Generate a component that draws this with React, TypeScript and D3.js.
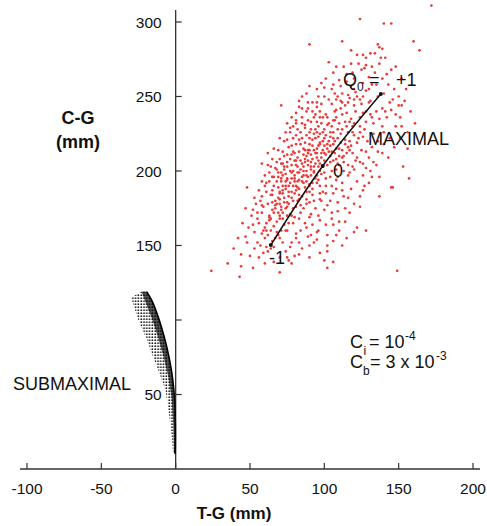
import React from "react";
import * as d3 from "d3";

// ---------- data ----------
const xTicks = [-100, -50, 0, 50, 100, 150, 200];
const xTickLabels = ["-100", "-50", "0", "50", "100", "150", "200"];
const yTicks = [50, 100, 150, 200, 250, 300];
const yTickLabels = ["50", "", "150", "200", "250", "300"];

// maximal path (Q0 = -1, 0, +1)
const maxTG = [64, 98.9, 138];
const maxCG = [150.3, 203.4, 251.7];
const maxQ = ["-1", "0", "+1"];

// red scatter (T-G, C-G) in mm
const redPoints: [number, number][] = [
  [172, 311], [124, 302], [140, 299], [145, 299], [112, 287], [90, 285], [160, 287], [136, 285],
  [137, 283], [139, 282], [164, 281], [122, 278], [126, 278], [131, 279], [134, 279], [128, 276],
  [138, 276], [141, 276], [118, 281], [103, 273], [108, 270], [148, 270], [125, 268], [127, 269],
  [134, 266], [115, 265], [120, 262], [130, 263], [142, 265], [110, 261], [152, 262], [98, 259],
  [90, 257], [155, 255], [105, 255], [112, 252], [118, 257], [122, 250], [128, 254], [132, 258],
  [136, 250], [140, 252], [146, 248], [108, 248], [100, 250], [95, 246], [116, 246], [125, 245],
  [131, 247], [150, 244], [85, 250], [120, 255], [126, 259],
  [71, 244], [83, 243], [89, 242], [92, 240], [81, 239], [97, 236], [75, 232], [81, 232], [79, 230],
  [85, 232], [87, 229], [95, 233], [102, 231], [105, 230], [77, 226], [90, 226], [95, 226], [99, 226],
  [104, 223], [75, 221], [83, 221], [87, 219], [92, 221], [97, 219], [104, 217], [72, 213], [79, 213],
  [82, 209], [89, 214], [95, 212], [100, 212], [68, 206], [71, 205], [75, 206], [81, 204], [87, 206],
  [91, 203], [97, 205], [63, 199], [68, 201], [73, 201], [78, 199], [83, 199], [88, 197], [93, 199],
  [65, 196], [71, 195], [75, 194], [80, 193], [85, 193], [90, 191], [95, 192], [48, 189], [61, 192],
  [69, 189], [82, 189],
  [109, 250], [117, 249], [124, 248], [112, 246], [120, 244], [130, 246], [139, 242], [145, 241],
  [152, 244], [108, 241], [115, 239], [126, 239], [132, 236], [142, 236], [151, 236], [107, 234],
  [117, 233], [124, 230], [139, 230], [148, 230], [109, 228], [119, 226], [126, 223], [106, 222],
  [114, 221], [122, 219], [132, 216], [147, 216], [108, 215], [117, 214], [128, 213], [139, 212],
  [112, 209], [122, 209], [130, 209], [143, 209], [156, 215], [110, 204], [119, 203], [126, 205],
  [135, 204], [153, 203], [117, 199], [126, 197], [137, 196], [157, 195], [108, 194], [122, 193],
  [130, 192], [146, 189],
  [126, 187], [145, 189], [137, 183], [53, 182], [58, 183], [65, 184], [70, 186], [81, 187], [99, 186],
  [106, 185], [112, 187], [116, 182], [52, 174], [58, 177], [65, 179], [71, 176], [75, 179], [83, 181],
  [90, 179], [97, 181], [102, 177], [109, 179], [114, 175], [124, 176], [55, 168], [63, 169], [70, 168],
  [78, 170], [83, 168], [90, 169], [97, 167], [105, 168], [110, 166], [53, 159], [60, 162], [68, 159],
  [75, 160], [81, 158], [88, 162], [95, 159], [102, 157], [106, 164], [122, 162], [128, 160], [120, 159],
  [55, 152], [61, 149], [72, 152], [77, 149], [83, 152], [90, 150], [95, 154], [102, 150], [108, 157],
  [112, 150], [115, 155], [44, 144], [50, 143], [56, 142], [75, 142], [83, 144], [90, 142], [35, 138],
  [44, 136], [78, 138], [100, 140], [106, 139], [102, 135], [24, 133], [43, 129], [70, 132], [149, 133],
  [85, 205], [88, 210], [92, 208], [95, 215], [98, 212], [100, 207], [102, 215], [104, 210], [106, 218],
  [93, 200], [96, 203], [89, 196], [86, 192], [83, 188], [80, 185], [78, 182], [76, 178], [74, 175],
  [72, 172], [70, 170], [68, 166], [66, 163], [64, 160], [62, 157], [60, 155], [67, 175], [63, 170],
  [61, 165], [72, 190], [70, 185], [75, 195], [79, 200], [82, 203], [87, 214], [90, 218], [94, 222],
  [97, 225], [100, 228], [103, 232], [108, 236], [112, 238], [115, 230], [118, 235], [121, 240],
  [99, 236], [96, 230], [91, 228], [88, 224], [84, 218], [80, 212], [77, 208], [73, 203], [69, 196],
  [66, 190], [64, 184], [62, 178], [58, 172], [56, 165], [59, 160], [65, 153], [70, 155], [74, 160],
  [79, 165], [84, 172], [88, 178], [92, 184], [97, 190], [101, 195], [105, 200], [109, 205], [113, 210],
  [117, 220], [111, 225], [106, 226], [103, 220], [100, 222], [97, 218], [94, 212], [91, 206], [88, 200],
  [85, 196], [82, 193], [79, 190], [76, 186], [73, 182], [70, 178], [67, 180], [71, 193], [74, 198],
  [78, 204], [81, 207], [86, 200], [90, 190], [94, 195], [98, 198], [102, 204], [107, 212], [110, 215],
  [114, 218], [119, 212], [123, 222], [127, 228], [111, 242], [105, 245], [97, 240], [93, 236], [89, 234],
  [78, 195], [80, 197], [84, 201], [86, 203], [89, 207], [91, 211], [93, 214], [96, 217], [99, 220],
  [101, 224], [76, 190], [74, 188], [72, 185], [69, 182], [67, 177], [65, 174], [63, 167], [61, 160],
  [58, 158], [57, 150], [62, 146], [66, 149], [69, 157], [73, 164], [77, 171], [81, 176], [85, 183],
  [88, 186], [92, 188], [96, 194], [100, 199], [104, 206], [108, 208], [112, 214], [116, 216], [120, 224],
  [124, 226], [128, 233], [131, 238], [135, 240], [119, 230], [114, 233], [110, 232], [106, 234],
  [101, 238], [95, 243], [92, 246], [88, 240], [85, 236], [82, 228], [79, 222], [76, 216], [73, 210],
  [70, 208], [67, 202], [64, 203], [60, 197], [58, 193], [56, 187], [54, 178], [51, 170], [49, 162],
  [47, 156], [52, 164], [57, 180], [61, 186], [66, 196], [69, 199], [72, 205], [75, 211], [78, 217],
  [81, 224], [84, 226], [87, 231], [91, 233], [94, 238], [98, 245], [103, 248], [107, 252], [111, 257],
  [115, 260], [119, 266], [123, 272], [128, 271], [132, 270], [137, 272], [143, 258], [147, 255],
  [150, 250], [154, 247], [158, 240], [161, 232], [156, 226], [151, 222], [144, 222], [140, 218],
  [136, 220], [133, 225], [129, 220], [125, 214], [121, 207], [116, 204], [113, 200], [109, 196],
  [105, 190], [101, 185], [98, 180], [94, 175], [91, 171], [87, 165], [84, 160], [81, 155], [78, 152],
  [74, 146], [70, 142], [66, 139], [60, 138], [52, 135], [39, 148], [42, 155], [45, 165], [47, 175],
  [62, 212], [58, 205], [66, 215], [70, 222], [74, 226], [78, 236], [83, 247], [88, 252], [95, 255],
  [101, 262], [106, 266], [113, 270], [118, 272], [144, 246], [148, 238], [152, 230], [140, 226],
  [136, 213], [133, 206], [131, 200], [127, 190], [124, 183], [120, 178], [117, 172], [114, 166],
  [110, 160], [106, 153], [102, 146], [97, 145], [93, 152], [89, 156], [85, 148], [80, 143], [76, 140],
  [92, 164], [96, 170], [100, 174], [104, 180], [108, 188], [112, 192], [116, 197], [120, 201],
  [124, 206], [128, 202], [132, 196], [118, 188], [113, 183], [109, 173], [105, 172], [101, 164],
  [96, 160], [91, 157], [86, 175], [82, 180], [79, 175], [75, 170], [71, 160], [67, 155], [64, 148],
  [59, 145], [53, 148], [48, 152], [86, 215], [90, 222], [94, 228], [98, 232], [102, 236], [107, 240],
  [111, 247], [116, 251], [121, 253], [126, 250], [130, 255], [135, 258], [139, 262], [145, 268],
  [133, 232], [137, 235], [141, 240], [128, 240], [124, 236], [120, 248], [114, 244], [106, 258],
  [100, 256], [96, 250], [89, 246], [85, 242], [81, 234], [77, 229], [73, 220], [69, 214], [65, 208],
  [62, 204], [60, 190], [63, 193], [59, 176], [55, 172],
  [76, 183], [78, 186], [81, 190], [83, 194], [86, 197], [88, 193], [91, 197], [93, 203], [96, 207],
  [98, 209], [101, 211], [103, 213], [99, 203], [97, 200], [94, 205], [91, 201], [89, 204], [87, 208],
  [84, 207], [82, 199], [80, 195], [77, 192], [74, 190], [72, 187], [70, 181], [68, 178], [66, 172],
  [64, 168], [71, 174], [73, 179], [75, 176], [79, 180], [83, 184], [87, 189], [90, 186], [92, 192],
  [95, 197], [99, 214], [102, 218], [105, 213], [107, 220], [109, 222], [111, 219], [104, 226],
  [100, 217], [95, 209], [92, 217], [89, 212], [86, 211], [83, 213], [80, 207], [77, 200], [74, 193],
  [71, 199], [68, 193], [65, 187], [69, 172], [72, 168], [76, 165], [80, 169], [84, 177], [88, 181],
  [93, 180], [97, 185], [101, 190], [104, 196], [108, 201], [106, 207], [110, 210], [113, 206],
  [115, 212], [118, 217], [112, 228], [116, 226], [120, 232], [96, 223], [93, 225], [90, 214],
  [85, 222], [81, 218], [78, 211], [75, 203], [72, 197],
];

// submaximal fan outline (T-G, C-G) in mm
const subRightEdge: [number, number][] = [
  [-19.5, 119], [-16, 113], [-12.8, 105], [-9.5, 95], [-6, 82], [-3.5, 70], [-2, 60],
  [-0.8, 48], [-0.3, 35], [-0.2, 20], [-0.3, 10],
];
const subLeftEdge: [number, number][] = [
  [-30, 115], [-25.5, 101], [-19.5, 87], [-12, 67], [-6.8, 53], [-4.5, 37], [-2.6, 21], [-1.8, 11],
];
const subTopEdge: [number, number][] = [[-30, 115], [-26, 117.5], [-22, 119.5], [-19.5, 119]];
const subInnerBand: [number, number][] = [
  [-23, 119], [-19.5, 110], [-16, 101], [-12, 89], [-8.3, 76], [-5, 62], [-2.8, 48],
  [-1.6, 30], [-1.2, 11],
];

// ---------- layout ----------
const W = 487;
const H = 526;
const FONT = "'Liberation Sans', Arial, Helvetica, sans-serif";

export default function App() {
  const x = d3.scaleLinear().domain([-100, 200]).range([27, 473]);
  const y = d3.scaleLinear().domain([0, 300]).range([469, 22]);
  const x0 = x(0);
  const y0 = y(0);

  const line = d3
    .line<[number, number]>()
    .x((d) => x(d[0]))
    .y((d) => y(d[1]))
    .curve(d3.curveCatmullRom);

  const closed = d3
    .line<[number, number]>()
    .x((d) => x(d[0]))
    .y((d) => y(d[1]))
    .curve(d3.curveLinearClosed);

  const fanPts: [number, number][] = [
    ...subTopEdge,
    ...subRightEdge.slice(1),
    ...[...subLeftEdge].reverse().slice(0, -1),
  ];
  const fanPath = closed(fanPts) as string;
  const bandPts: [number, number][] = [...subRightEdge, ...[...subInnerBand].reverse()];
  const bandPath = closed(bandPts) as string;

  const maxPts: [number, number][] = maxTG.map((t, i) => [t, maxCG[i]]);

  return (
    <svg
      width={W}
      height={H}
      style={{ position: "absolute", left: 0, top: 0, background: "#fff" }}
      fontFamily={FONT}
    >
      <defs>
        <pattern id="dots" width="2.8" height="3" patternUnits="userSpaceOnUse">
          <circle cx="1.2" cy="1.2" r="0.85" fill="#111" />
        </pattern>
        <pattern id="dotsDense" width="1.7" height="1.7" patternUnits="userSpaceOnUse">
          <circle cx="0.85" cy="0.85" r="0.75" fill="#000" />
        </pattern>
      </defs>

      {/* axes */}
      <line x1={20} x2={480} y1={y0} y2={y0} stroke="#333" strokeWidth={1.3} />
      <line x1={x0} x2={x0} y1={10} y2={y0} stroke="#333" strokeWidth={1.3} />
      {xTicks.map((t, i) => (
        <g key={"xt" + t}>
          <line x1={x(t)} x2={x(t)} y1={y0} y2={y0 - 6} stroke="#333" strokeWidth={1.2} />
          <text x={x(t)} y={y0 + 25} fontSize={15.5} textAnchor="middle" fill="#111">
            {xTickLabels[i]}
          </text>
        </g>
      ))}
      {yTicks.map((t, i) => (
        <g key={"yt" + t}>
          <line x1={x0} x2={x0 + 6} y1={y(t)} y2={y(t)} stroke="#333" strokeWidth={1.2} />
          <text x={x0 - 14} y={y(t) + 5.5} fontSize={15.5} textAnchor="end" fill="#111">
            {yTickLabels[i]}
          </text>
        </g>
      ))}

      {/* axis titles */}
      <text x={234} y={519} fontSize={17} fontWeight="bold" textAnchor="middle" fill="#111">
        T-G (mm)
      </text>
      <text x={78} y={124} fontSize={18} fontWeight="bold" textAnchor="middle" fill="#111">
        C-G
      </text>
      <text x={78} y={148} fontSize={18} fontWeight="bold" textAnchor="middle" fill="#111">
        (mm)
      </text>

      {/* red scatter */}
      {redPoints.map((p, i) => (
        <circle key={"r" + i} cx={x(p[0])} cy={y(p[1])} r={1.35} fill="#ea3b3b" />
      ))}

      {/* maximal path */}
      <path d={line(maxPts) as string} fill="none" stroke="#111" strokeWidth={1.5} />
      {maxPts.map((p, i) => (
        <circle key={"m" + i} cx={x(p[0])} cy={y(p[1])} r={2} fill="#111" />
      ))}

      {/* submaximal fan */}
      <path d={fanPath} fill="url(#dots)" stroke="none" />
      <path d={bandPath} fill="url(#dotsDense)" stroke="none" />
      <path d={line(subRightEdge) as string} fill="none" stroke="#000" strokeWidth={1.6} />

      {/* annotations */}
      <text x={343} y={86} fontSize={18} fill="#111">Q</text>
      <text x={357} y={91} fontSize={12} fill="#111">0</text>
      <text x={369} y={86} fontSize={18} fill="#111">=</text>
      <text x={396} y={86} fontSize={18} fill="#111">{maxQ[2]}</text>
      <text x={368} y={145} fontSize={18} fill="#111">MAXIMAL</text>
      <text x={333} y={177} fontSize={18} fill="#111">{maxQ[1]}</text>
      <text x={269} y={264} fontSize={18} fill="#111">{maxQ[0]}</text>
      <text x={13} y={390} fontSize={18} fill="#111">SUBMAXIMAL</text>

      <text x={350} y={348} fontSize={18} fill="#111">C</text>
      <text x={363.5} y={355} fontSize={12} fill="#111">i</text>
      <text x={369} y={348} fontSize={18} fill="#111">= 10</text>
      <text x={405} y={340} fontSize={12} fill="#111">-4</text>
      <text x={350} y={368} fontSize={18} fill="#111">C</text>
      <text x={363} y={375} fontSize={12} fill="#111">b</text>
      <text x={370} y={368} fontSize={18} fill="#111">= 3 x 10</text>
      <text x={436} y={360} fontSize={12} fill="#111">-3</text>
    </svg>
  );
}
